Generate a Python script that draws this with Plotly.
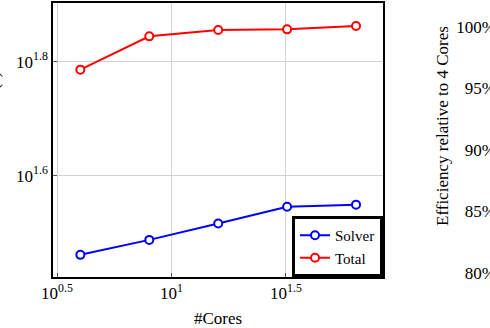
import plotly.graph_objects as go

cores = [4, 8, 16, 32, 64]
solver = [28.9, 30.7, 32.8, 35.1, 35.4]
total = [61.1, 69.9, 71.7, 71.9, 72.9]

x_tick_exp = ["0.5", "1", "1.5"]
y_tick_exp = ["1.6", "1.8"]
eff_ticks = [80, 85, 90, 95, 100]

FONT = "Liberation Serif, DejaVu Serif, serif"
fs = 17

fig = go.Figure()
fig.add_trace(go.Scatter(x=cores, y=solver, name="Solver", mode="lines+markers",
                         line=dict(color="rgb(0,0,255)", width=2),
                         marker=dict(symbol="circle", size=8, color="white",
                                     line=dict(color="rgb(0,0,255)", width=2))))
fig.add_trace(go.Scatter(x=cores, y=total, name="Total", mode="lines+markers",
                         line=dict(color="rgb(255,0,0)", width=2),
                         marker=dict(symbol="circle", size=8, color="white",
                                     line=dict(color="rgb(255,0,0)", width=2))))
# empty trace so the efficiency axis of the (cropped) right-hand chart is drawn
fig.add_trace(go.Scatter(x=[], y=[], yaxis="y2", showlegend=False, hoverinfo="skip"))

W, H = 490, 328
L, R, T, B = 53, 0, 3, 51
pw = W - L - R
ph = H - T - B
dom_right = (383 - L) / pw

axis_common = dict(showline=True, linecolor="black", linewidth=1.5, mirror=True,
                   ticks="inside", ticklen=4, tickcolor="#555", tickwidth=1,
                   showgrid=True, gridcolor="#d3d3d3", gridwidth=1,
                   zeroline=False, tickfont=dict(family=FONT, size=fs, color="black"),
                   automargin=False)

fig.update_layout(
    width=W, height=H,
    margin=dict(l=L, r=R, t=T, b=B),
    paper_bgcolor="white", plot_bgcolor="white",
    font=dict(family=FONT, size=fs, color="black"),
    xaxis=dict(type="log", domain=[0, dom_right], range=[0.4825, 1.924],
               tickvals=[10 ** float(e) for e in x_tick_exp],
               ticktext=["10<sup>%s</sup>" % e for e in x_tick_exp],
               title=dict(text="#Cores", font=dict(family=FONT, size=fs)),
               **axis_common),
    yaxis=dict(type="log", range=[1.422, 1.903],
               tickvals=[10 ** float(e) for e in y_tick_exp],
               ticktext=["10<sup>%s</sup>" % e for e in y_tick_exp],
               **axis_common),
    yaxis2=dict(overlaying="y", anchor="free", position=1, side="left",
                range=[79.67, 101.95], tickvals=eff_ticks,
                ticktext=["%d%%" % v for v in eff_ticks],
                showgrid=False, showline=False, zeroline=False, ticks="",
                ticklabelstandoff=-6, automargin=False,
                tickfont=dict(family=FONT, size=fs, color="black")),
    legend=dict(x=dom_right, y=0, xanchor="right", yanchor="bottom",
                bgcolor="white", bordercolor="black", borderwidth=3,
                font=dict(family=FONT, size=15), tracegroupgap=0,
                itemwidth=30),
    showlegend=True,
)

fig.add_annotation(text="Efficiency relative to 4 Cores", textangle=-90,
                   xref="paper", yref="paper", x=(443 - L) / pw, y=(277 - 126) / ph,
                   xanchor="center", yanchor="middle",
                   showarrow=False, font=dict(family=FONT, size=fs))
fig.add_annotation(text="Time (s)", textangle=-90,
                   xref="paper", yref="paper", x=(-7 - L) / pw, y=(277 - 101) / ph,
                   xanchor="center", yanchor="middle",
                   showarrow=False, font=dict(family=FONT, size=fs))

fig.write_html("out.html")
